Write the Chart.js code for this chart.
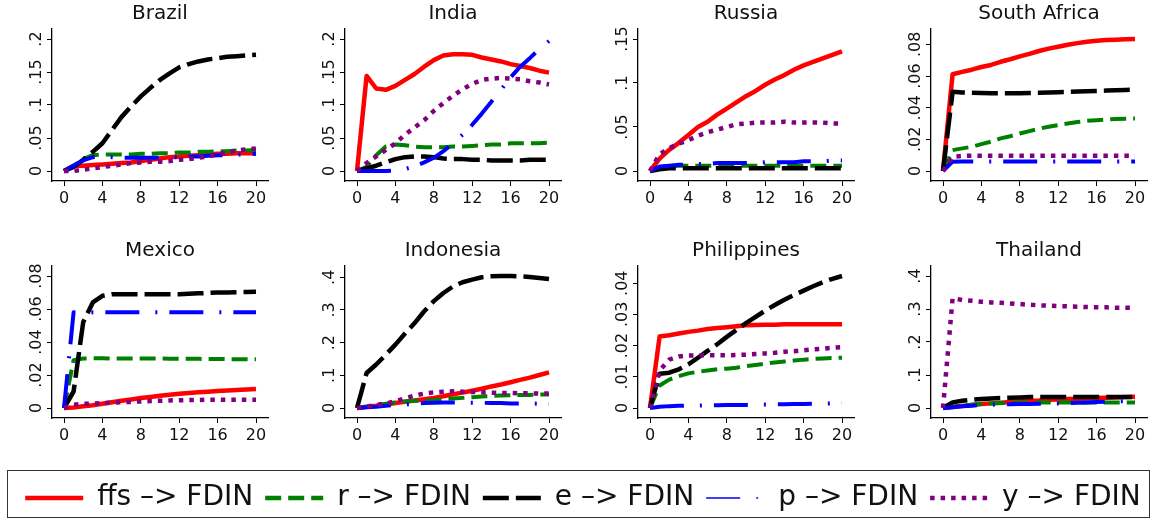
<!DOCTYPE html>
<html>
<head>
<meta charset="utf-8">
<script src="https://cdn.jsdelivr.net/npm/chart.js@4.4.1/dist/chart.umd.min.js"></script>
<style>
  html, body { margin: 0; padding: 0; background: #fff; }
  #wrap { position: relative; width: 1154px; height: 518px; overflow: hidden; background: #fff; }
  #wrap canvas { position: absolute; }
  #legendBox { position: absolute; left: 7px; top: 470px; width: 1143px; height: 48px; box-sizing: border-box; border: 1.5px solid #333; }
</style>
</head>
<body>
<div id="wrap">
  <div id="legendBox"></div>
</div>
<script>
// ---------------- DATA ----------------

const horizon = [0, 1, 2, 3, 4, 5, 6, 7, 8, 9, 10, 11, 12, 13, 14, 15, 16, 17, 18, 19, 20];
const stepTicks = [0, 4, 8, 12, 16, 20];
const seriesNames = ['ffs \u2013> FDIN', 'r \u2013> FDIN', 'e \u2013> FDIN', 'p \u2013> FDIN', 'y \u2013> FDIN'];

// Brazil
const brazilTicks = [0, .05, .1, .15, .2];
const brazilFfs = [0, .008, .008, .009, .010, .011, .012, .013, .015, .017, .019, .021, .022, .023, .024, .025, .026, .026, .027, .027, .027];
const brazilR   = [0, .008, .018, .024, .025, .025, .025, .025, .026, .026, .027, .027, .028, .028, .029, .029, .030, .030, .031, .031, .032];
const brazilE   = [0, .006, .017, .029, .042, .062, .082, .098, .113, .126, .138, .148, .157, .162, .166, .169, .171, .173, .174, .175, .176];
const brazilP   = [0, .008, .016, .021, .022, .021, .020, .020, .020, .020, .020, .021, .021, .022, .022, .023, .024, .024, .025, .025, .026];
const brazilY   = [0, 0, .002, .004, .006, .008, .010, .012, .013, .014, .014, .015, .017, .018, .020, .022, .025, .028, .031, .033, .034];

// India
const indiaTicks = [0, .05, .1, .15, .2];
const indiaFfs = [0, .144, .125, .123, .129, .138, .147, .158, .168, .175, .177, .177, .176, .172, .169, .166, .162, .159, .156, .152, .149];
const indiaR   = [0, .0065, .024, .037, .040, .039, .037, .036, .036, .036, .037, .037, .038, .039, .040, .040, .042, .042, .042, .042, .043];
const indiaE   = [0, .004, .008, .013, .018, .021, .022, .022, .021, .019, .018, .018, .017, .017, .016, .016, .016, .016, .017, .017, .017];
const indiaP   = [0, 0, 0, 0, .0005, .003, .007, .013, .020, .030, .042, .055, .070, .087, .105, .123, .142, .158, .171, .185, .197];
const indiaY   = [0, .012, .022, .032, .042, .055, .066, .077, .091, .103, .114, .124, .132, .138, .140, .141, .140, .139, .136, .134, .131];

// Russia
const russiaTicks = [0, .05, .1, .15];
const russiaFfs = [0, .014, .024, .032, .041, .050, .056, .064, .071, .078, .085, .091, .098, .104, .109, .115, .120, .124, .128, .132, .136];
const russiaR   = [0, .004, .005, .006, .006, .006, .006, .006, .006, .006, .006, .006, .006, .006, .006, .006, .006, .006, .006, .006, .006];
const russiaE   = [0, .002, .003, .003, .003, .003, .003, .003, .003, .003, .003, .003, .003, .003, .003, .003, .003, .003, .003, .003, .003];
const russiaP   = [0, .005, .006, .007, .007, .008, .008, .009, .009, .009, .009, .009, .010, .010, .010, .010, .011, .011, .011, .012, .012];
const russiaY   = [0, .019, .026, .031, .035, .040, .044, .047, .050, .053, .054, .055, .055, .055, .056, .055, .055, .055, .055, .054, .054];

// South Africa
const southAfricaTicks = [0, .02, .04, .06, .08];
const southAfricaFfs = [0, .0611, .0626, .0640, .0657, .0670, .0690, .0706, .0724, .0740, .0758, .0773, .0785, .0798, .0808, .0817, .0823, .0827, .0830, .0832, .0834];
const southAfricaR   = [0, .0132, .0143, .0153, .0170, .0185, .0206, .0220, .0237, .0252, .0267, .0280, .0290, .0300, .0309, .0317, .0321, .0325, .0328, .0330, .0332];
const southAfricaE   = [0, .0500, .0496, .0494, .0493, .0492, .0492, .0492, .0492, .0493, .0494, .0496, .0498, .0500, .0502, .0504, .0506, .0508, .0510, .0512, .0514];
const southAfricaP   = [0, .0059, .0060, .0060, .0060, .0060, .0060, .0060, .0060, .0060, .0060, .0060, .0060, .0060, .0060, .0060, .0060, .0060, .0060, .0060, .0060];
const southAfricaY   = [0, .0090, .0095, .0097, .0097, .0097, .0097, .0097, .0097, .0097, .0097, .0097, .0097, .0097, .0097, .0097, .0097, .0097, .0097, .0097, .0097];

// Mexico
const mexicoTicks = [0, .02, .04, .06, .08];
const mexicoFfs = [0, .0003, .0010, .0017, .0026, .0035, .0044, .0052, .0060, .0067, .0074, .0080, .0086, .0091, .0095, .0099, .0103, .0106, .0109, .0112, .0115];
const mexicoR   = [0, .0290, .0300, .0302, .0301, .0300, .0300, .0300, .0300, .0300, .0300, .0299, .0299, .0298, .0298, .0297, .0297, .0296, .0296, .0296, .0295];
const mexicoE   = [0, .0100, .0520, .0640, .0680, .0690, .0690, .0690, .0690, .0690, .0690, .0690, .0690, .0693, .0695, .0697, .0700, .0700, .0702, .0703, .0705];
const mexicoP   = [0, .0580, .0575, .0580, .0580, .0580, .0580, .0580, .0580, .0580, .0580, .0580, .0580, .0580, .0580, .0580, .0580, .0580, .0580, .0580, .0580];
const mexicoY   = [0, .0020, .0025, .0027, .0030, .0033, .0035, .0037, .0040, .0042, .0044, .0046, .0047, .0048, .0049, .0050, .0050, .0050, .0050, .0050, .0050];

// Indonesia
const indonesiaTicks = [0, .1, .2, .3, .4];
const indonesiaFfs = [0, .004, .007, .011, .015, .019, .023, .027, .031, .036, .042, .047, .053, .059, .066, .072, .079, .086, .093, .101, .109];
const indonesiaR   = [0, .003, .008, .013, .017, .020, .022, .023, .024, .027, .029, .031, .033, .035, .037, .038, .039, .040, .040, .041, .041];
const indonesiaE   = [0, .107, .133, .163, .194, .228, .260, .296, .327, .352, .372, .385, .393, .400, .403, .404, .404, .403, .401, .398, .395];
const indonesiaP   = [0, .002, .004, .007, .009, .011, .013, .015, .016, .017, .017, .017, .016, .016, .015, .015, .014, .014, .014, .013, .013];
const indonesiaY   = [0, .004, .009, .014, .020, .030, .038, .044, .048, .050, .051, .050, .049, .048, .047, .046, .046, .045, .045, .044, .044];

// Philippines
const philippinesTicks = [0, .01, .02, .03, .04];
const philippinesFfs = [0, .0229, .0233, .0239, .0244, .0248, .0253, .0256, .0259, .0262, .0265, .0266, .0267, .0267, .0268, .0268, .0268, .0268, .0268, .0268, .0268];
const philippinesR   = [0, .0072, .0091, .0102, .0111, .0116, .0120, .0124, .0126, .0129, .0134, .0138, .0142, .0146, .0149, .0152, .0155, .0157, .0159, .0160, .0161];
const philippinesE   = [0, .0110, .0113, .0124, .0140, .0161, .0183, .0204, .0228, .0250, .0272, .0292, .0312, .0330, .0347, .0362, .0376, .0390, .0403, .0414, .0423];
const philippinesP   = [0, .0004, .0006, .0007, .0008, .0008, .0009, .0009, .0010, .0010, .0010, .0011, .0011, .0012, .0012, .0013, .0013, .0014, .0014, .0015, .0016];
const philippinesY   = [0, .0120, .0155, .0165, .0168, .0169, .0169, .0169, .0169, .0170, .0171, .0173, .0175, .0177, .0180, .0182, .0185, .0188, .0190, .0193, .0195];

// Thailand
const thailandTicks = [0, .1, .2, .3, .4];
const thailandFfs = [0, .003, .006, .009, .012, .014, .016, .018, .020, .022, .023, .025, .026, .027, .028, .029, .030, .031, .032, .033, .034];
const thailandR   = [0, .004, .007, .010, .012, .014, .015, .016, .016, .017, .017, .017, .017, .017, .017, .017, .017, .017, .017, .017, .017];
const thailandE   = [0, .017, .022, .025, .027, .029, .030, .031, .032, .033, .033, .033, .033, .033, .033, .033, .033, .033, .033, .033, .033];
const thailandP   = [0, .002, .005, .007, .009, .010, .011, .011, .012, .012, .013, .013, .014, .015, .016, .017, .018, .019, .020, .021, .022];
const thailandY   = [0, .333, .327, .325, .322, .320, .319, .317, .315, .313, .311, .310, .309, .308, .307, .306, .305, .305, .304, .304, .303];

// ---------------- STYLE / LAYOUT ----------------

Chart.defaults.font.family = "'DejaVu Sans', sans-serif";

const lineStyles = [
  { color: '#ff0000', width: 4.5, dash: [],              keyWidth: 4.5 },
  { color: '#008000', width: 4,   dash: [16, 7],         keyWidth: 4.5 },
  { color: '#000000', width: 4.5, dash: [26, 7],         keyWidth: 4.5 },
  { color: '#0000ff', width: 4,   dash: [34, 16, 2, 12], keyWidth: 1.5 },
  { color: '#800080', width: 4.5, dash: [4.5, 6],        keyWidth: 4.5 }
];

const AXIS_W = 40;     // room for rotated y labels
const TITLE_H = 29;
const XAXIS_H = 24;
const PLOT_W = 216;
const PLOT_H = 152;
const RIGHT_PAD = 6;
const colLeft = [52, 345, 638, 931];
const rowTop = [29, 266];

const panels = [
  { title: 'Brazil',       ticks: brazilTicks,      series: [brazilFfs, brazilR, brazilE, brazilP, brazilY] },
  { title: 'India',        ticks: indiaTicks,       series: [indiaFfs, indiaR, indiaE, indiaP, indiaY] },
  { title: 'Russia',       ticks: russiaTicks,      series: [russiaFfs, russiaR, russiaE, russiaP, russiaY] },
  { title: 'South Africa', ticks: southAfricaTicks, series: [southAfricaFfs, southAfricaR, southAfricaE, southAfricaP, southAfricaY] },
  { title: 'Mexico',       ticks: mexicoTicks,      series: [mexicoFfs, mexicoR, mexicoE, mexicoP, mexicoY] },
  { title: 'Indonesia',    ticks: indonesiaTicks,   series: [indonesiaFfs, indonesiaR, indonesiaE, indonesiaP, indonesiaY] },
  { title: 'Philippines',  ticks: philippinesTicks, series: [philippinesFfs, philippinesR, philippinesE, philippinesP, philippinesY] },
  { title: 'Thailand',     ticks: thailandTicks,    series: [thailandFfs, thailandR, thailandE, thailandP, thailandY] }
];

// Stata style: 0, .05, .1 ...
function tickText(v) {
  return v === 0 ? '0' : String(v).replace(/^0\./, '.');
}

const measureCtx = document.createElement('canvas').getContext('2d');
measureCtx.font = "16px 'DejaVu Sans'";

const wrap = document.getElementById('wrap');

// ---------------- PANELS ----------------

panels.forEach((panel, i) => {
  const col = i % 4;
  const row = Math.floor(i / 4);

  const canvas = document.createElement('canvas');
  const w = AXIS_W + PLOT_W + RIGHT_PAD;
  const h = TITLE_H + PLOT_H + XAXIS_H;
  canvas.width = w;
  canvas.height = h;
  canvas.style.width = w + 'px';
  canvas.style.height = h + 'px';
  canvas.style.left = (colLeft[col] - AXIS_W) + 'px';
  canvas.style.top = (rowTop[row] - TITLE_H) + 'px';
  wrap.appendChild(canvas);

  const all = panel.series.flat();
  const hi = Math.max(panel.ticks[panel.ticks.length - 1], ...all);
  const lo = Math.min(0, ...all);
  const padY = (hi - lo) * 10 / 132;
  const widest = Math.max(...panel.ticks.map(t => measureCtx.measureText(tickText(t)).width));

  new Chart(canvas, {
    type: 'line',
    data: {
      datasets: panel.series.map((vals, k) => ({
        label: seriesNames[k],
        data: horizon.map((hz, j) => ({ x: hz, y: vals[j] })),
        borderColor: lineStyles[k].color,
        backgroundColor: lineStyles[k].color,
        borderWidth: lineStyles[k].width,
        borderDash: lineStyles[k].dash,
        borderCapStyle: 'butt',
        borderJoinStyle: 'round',
        pointRadius: 0,
        tension: 0,
        fill: false,
        order: seriesNames.length - k
      }))
    },
    options: {
      responsive: false,
      animation: false,
      events: [],
      layout: { padding: { right: RIGHT_PAD } },
      plugins: {
        legend: { display: false },
        tooltip: { enabled: false },
        title: {
          display: true,
          text: panel.title,
          fullSize: false,
          color: '#111',
          font: { size: 20, weight: 'normal' },
          padding: { top: 2, bottom: 3 }
        }
      },
      scales: {
        x: {
          type: 'linear',
          min: -1.25,
          max: 21.25,
          afterBuildTicks: s => { s.ticks = stepTicks.map(v => ({ value: v })); },
          afterFit: s => { s.height = XAXIS_H; s.paddingLeft = 0; s.paddingRight = 0; },
          ticks: { autoSkip: false, maxRotation: 0, padding: 3, color: '#111', font: { size: 16 }, callback: v => String(v) },
          grid: { drawOnChartArea: false, tickLength: 5, color: '#000' },
          border: { color: '#000', width: 1.3 }
        },
        y: {
          type: 'linear',
          min: lo - padY,
          max: hi + padY,
          afterBuildTicks: s => { s.ticks = panel.ticks.map(v => ({ value: v })); },
          afterFit: s => { s.width = AXIS_W; s.paddingTop = 0; s.paddingBottom = 0; },
          ticks: {
            autoSkip: false,
            minRotation: 90,
            maxRotation: 90,
            align: 'end',
            crossAlign: 'center',
            padding: 2.3 - widest / 2,
            color: '#111',
            font: { size: 16 },
            callback: v => tickText(v)
          },
          grid: { drawOnChartArea: false, tickLength: 5, color: '#000' },
          border: { color: '#000', width: 1.3 }
        }
      }
    }
  });
});

// ---------------- LEGEND ----------------

// tall canvas: a top legend may only use half of the chart height
const legendCanvas = document.createElement('canvas');
legendCanvas.width = 1154;
legendCanvas.height = 140;
legendCanvas.style.width = '1154px';
legendCanvas.style.height = '140px';
legendCanvas.style.left = '6px';
legendCanvas.style.top = '472px';
wrap.appendChild(legendCanvas);

new Chart(legendCanvas, {
  type: 'line',
  data: { datasets: seriesNames.map(name => ({ label: name, data: [] })) },
  options: {
    responsive: false,
    animation: false,
    events: [],
    scales: { x: { display: false }, y: { display: false } },
    plugins: {
      tooltip: { enabled: false },
      legend: {
        display: true,
        position: 'top',
        labels: {
          color: '#111',
          font: { size: 28 },
          usePointStyle: true,
          pointStyle: 'line',
          pointStyleWidth: 58,
          padding: 12,
          generateLabels: () => seriesNames.map((name, k) => ({
            text: name,
            datasetIndex: k,
            hidden: false,
            fontColor: '#111',
            strokeStyle: lineStyles[k].color,
            fillStyle: lineStyles[k].color,
            lineWidth: lineStyles[k].keyWidth,
            lineDash: lineStyles[k].dash,
            lineCap: 'butt',
            pointStyle: 'line',
            rotation: 180
          }))
        }
      }
    }
  }
});
</script>
</body>
</html>
